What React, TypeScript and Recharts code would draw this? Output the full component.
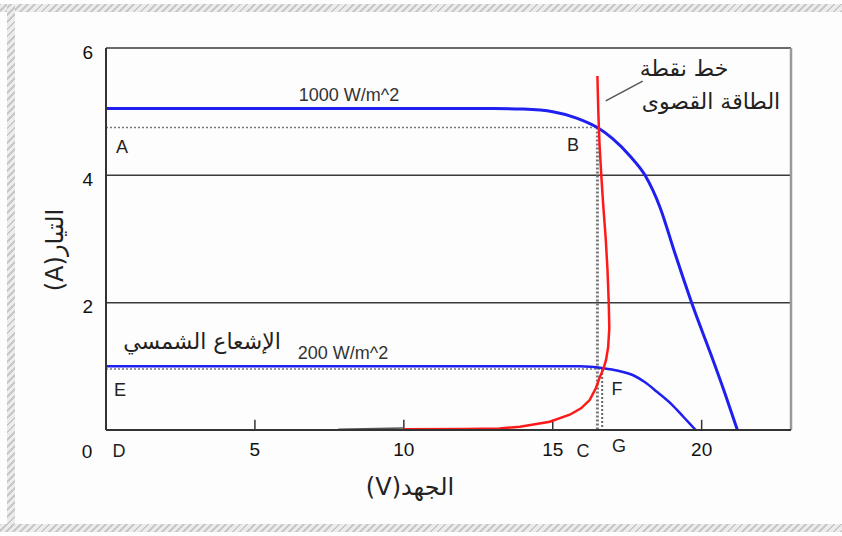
import {
  ComposedChart,
  CartesianGrid,
  Line,
  ReferenceLine,
  XAxis,
  YAxis,
} from "recharts";

// I-V curves of a PV panel at two irradiance levels, plus the maximum power line
const voltageTicks = [5, 10, 15, 20];
const currentTicks = [0, 2, 4, 6];

const curve1000 = [
  { v: 0, i: 5.05 },
  { v: 13, i: 5.05 },
  { v: 14, i: 5.04 },
  { v: 15, i: 5.0 },
  { v: 15.8, i: 4.9 },
  { v: 16.5, i: 4.75 },
  { v: 17, i: 4.58 },
  { v: 17.6, i: 4.3 },
  { v: 18.1, i: 4.0 },
  { v: 18.6, i: 3.5 },
  { v: 19.1, i: 2.78 },
  { v: 19.7, i: 1.95 },
  { v: 20.3, i: 1.2 },
  { v: 20.8, i: 0.55 },
  { v: 21.2, i: 0 },
];

const curve200 = [
  { v: 0, i: 1.0 },
  { v: 15.9, i: 1.0 },
  { v: 16.7, i: 0.97 },
  { v: 17.2, i: 0.93 },
  { v: 17.7, i: 0.86 },
  { v: 18.1, i: 0.75 },
  { v: 18.5, i: 0.6 },
  { v: 19.0, i: 0.4 },
  { v: 19.4, i: 0.2 },
  { v: 19.8, i: 0 },
];

const mppLine = [
  { v: 16.5, i: 5.56 },
  { v: 16.53, i: 5.0 },
  { v: 16.57, i: 4.5 },
  { v: 16.63, i: 4.0 },
  { v: 16.7, i: 3.5 },
  { v: 16.78, i: 3.0 },
  { v: 16.84, i: 2.5 },
  { v: 16.88, i: 2.0 },
  { v: 16.9, i: 1.6 },
  { v: 16.86, i: 1.3 },
  { v: 16.79, i: 1.1 },
  { v: 16.7, i: 0.96 },
  { v: 16.58, i: 0.83 },
  { v: 16.45, i: 0.66 },
  { v: 16.24, i: 0.47 },
  { v: 15.95, i: 0.34 },
  { v: 15.57, i: 0.24 },
  { v: 14.9, i: 0.13 },
  { v: 13.9, i: 0.05 },
  { v: 13.2, i: 0.025 },
  { v: 12, i: 0.015 },
  { v: 10, i: 0.01 },
];

const mppTail = [
  { v: 7.8, i: 0.01 },
  { v: 10, i: 0.03 },
];

const pointB = { v: 16.5, i: 4.75 };
const pointF = { v: 16.66, i: 0.96 };
const leader = [
  { v: 16.78, i: 5.17 },
  { v: 18.02, i: 5.48 },
];

const latin = "'Liberation Sans', Arial, sans-serif";
const arabic = "'DejaVu Sans', sans-serif";

const hatch =
  "repeating-linear-gradient(-45deg, #c8c8c8 0px, #c8c8c8 2px, #ececec 2px, #ececec 5px)";

export default function App() {
  return (
    <div
      style={{
        position: "fixed",
        left: 0,
        top: 0,
        width: 842,
        height: 536,
        background: "#fdfdfd",
        overflow: "hidden",
      }}
    >
      <div style={{ position: "absolute", left: 0, top: 4, width: 842, height: 8, background: hatch }} />
      <div style={{ position: "absolute", left: 7, top: 4, width: 8, height: 528, background: hatch }} />
      <div style={{ position: "absolute", left: 0, top: 524, width: 842, height: 8, background: hatch }} />

      <div style={{ position: "absolute", left: 0, top: 0 }}>
        <ComposedChart
          width={842}
          height={536}
          margin={{ top: 48, right: 51, bottom: 0, left: 0 }}
        >
          <CartesianGrid
            vertical={false}
            stroke="#3a3a3a"
            strokeWidth={1.5}
          />
          <XAxis
            type="number"
            dataKey="v"
            domain={[0, 23]}
            ticks={voltageTicks}
            height={106}
            tickLine={false}
            tickMargin={7}
            axisLine={{ stroke: "#333", strokeWidth: 2 }}
            tick={{ fill: "#111", fontSize: 19, fontFamily: latin }}
            allowDataOverflow
          />
          <YAxis
            type="number"
            dataKey="i"
            domain={[0, 6]}
            ticks={currentTicks.filter((t) => t > 0)}
            width={106}
            tickLine={false}
            tickMargin={7}
            axisLine={{ stroke: "#333", strokeWidth: 2 }}
            tick={{ fill: "#111", fontSize: 19, fontFamily: latin, dy: 4 }}
            allowDataOverflow
          />

          <ReferenceLine x={23} stroke="#9a9a9a" strokeWidth={2.5} />

          {voltageTicks.map((t) => (
            <ReferenceLine
              key={`tick-${t}`}
              segment={[
                { x: t, y: 0 },
                { x: t, y: 0.16 },
              ]}
              stroke="#333"
              strokeWidth={1.5}
            />
          ))}

          {/* A-B and E-F guides, then the drops to C and G */}
          <ReferenceLine
            segment={[
              { x: 0, y: pointB.i },
              { x: pointB.v, y: pointB.i },
            ]}
            stroke="#777"
            strokeWidth={1.5}
            strokeDasharray="2 2"
          />
          <ReferenceLine
            segment={[
              { x: 0, y: pointF.i },
              { x: pointF.v, y: pointF.i },
            ]}
            stroke="#777"
            strokeWidth={1.5}
            strokeDasharray="2 2"
          />
          <ReferenceLine
            segment={[
              { x: pointB.v, y: pointB.i },
              { x: pointB.v, y: 0 },
            ]}
            stroke="#777"
            strokeWidth={3}
            strokeDasharray="2 2"
          />
          <ReferenceLine
            segment={[
              { x: pointF.v, y: pointF.i },
              { x: pointF.v, y: 0 },
            ]}
            stroke="#666"
            strokeWidth={2}
            strokeDasharray="2 2"
          />
          <ReferenceLine
            segment={[
              { x: leader[0].v, y: leader[0].i },
              { x: leader[1].v, y: leader[1].i },
            ]}
            stroke="#555"
            strokeWidth={1.5}
          />

          <Line
            data={curve1000}
            dataKey="i"
            type="monotone"
            stroke="#1f1ff0"
            strokeWidth={3}
            dot={false}
            isAnimationActive={false}
          />
          <Line
            data={curve200}
            dataKey="i"
            type="monotone"
            stroke="#1f1ff0"
            strokeWidth={2.5}
            dot={false}
            isAnimationActive={false}
          />
          <Line
            data={mppTail}
            dataKey="i"
            type="linear"
            stroke="#555"
            strokeWidth={1.5}
            dot={false}
            isAnimationActive={false}
          />
          <Line
            data={mppLine}
            dataKey="i"
            type="linear"
            stroke="#ff1a1a"
            strokeWidth={2.5}
            dot={false}
            isAnimationActive={false}
          />
        </ComposedChart>
      </div>

      {/* point letters, curve captions and axis titles */}
      <svg
        width={842}
        height={536}
        style={{ position: "absolute", left: 0, top: 0, pointerEvents: "none" }}
      >
        <g fontFamily={latin} fontSize={19} fill="#111" textAnchor="middle" dominantBaseline="central">
          <text x={87} y={451}>0</text>
        </g>
        <g fontFamily={latin} fontSize={18} fill="#222" textAnchor="middle" dominantBaseline="central">
          <text x={122} y={147}>A</text>
          <text x={573} y={145}>B</text>
          <text x={120} y={390}>E</text>
          <text x={617} y={389}>F</text>
          <text x={119} y={451}>D</text>
          <text x={583} y={451}>C</text>
          <text x={619} y={446}>G</text>
        </g>
        <g fontFamily={latin} fontSize={18} fill="#333" textAnchor="middle" dominantBaseline="central">
          <text x={349} y={95}>1000 W/m^2</text>
          <text x={343} y={353}>200 W/m^2</text>
        </g>
        <g fontFamily={arabic} fontSize={22} fill="#222" textAnchor="middle" dominantBaseline="central">
          <text x={202} y={341}>الإشعاع الشمسي</text>
          <text x={684} y={68}>خط نقطة</text>
          <text x={711} y={101}>الطاقة القصوى</text>
        </g>
        <g fontFamily={arabic} fontSize={24} fill="#222" textAnchor="middle" dominantBaseline="central">
          <text x={410} y={487}>(V)الجهد</text>
          <text x={55} y={250} transform="rotate(-90 55 250)">(A)التيار</text>
        </g>
      </svg>
    </div>
  );
}
